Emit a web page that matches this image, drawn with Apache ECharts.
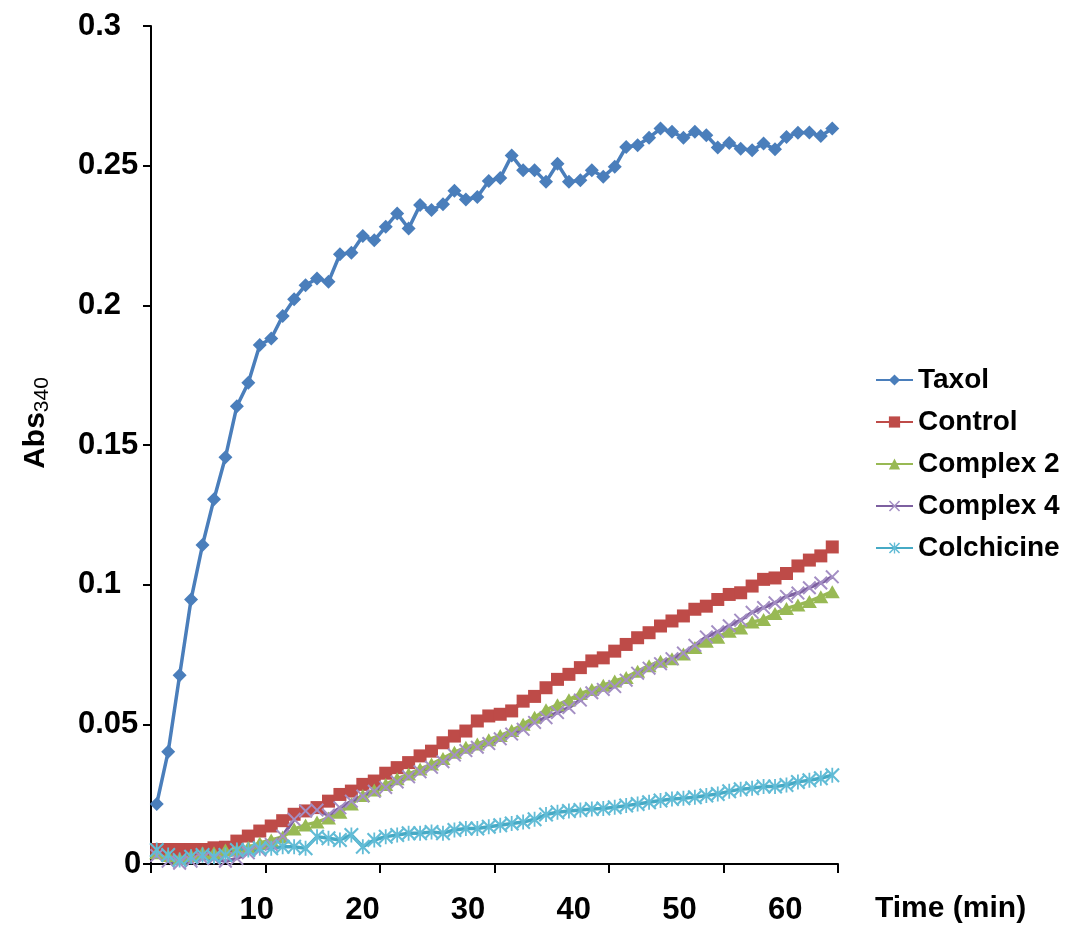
<!DOCTYPE html>
<html>
<head>
<meta charset="utf-8">
<script src="https://cdn.jsdelivr.net/npm/echarts@6.0.0/dist/echarts.min.js"></script>
<style>
html, body { margin: 0; padding: 0; background: #fff; }
#main { width: 1066px; height: 927px; }
</style>
</head>
<body>
<div id="main"></div>
<script>
var dom = document.getElementById('main');
var myChart = echarts.init(dom);

// read number (one plate reading every ~65 s)
var reads = ['1', '2', '3', '4', '5', '6', '7', '8', '9', '10',
    '11', '12', '13', '14', '15', '16', '17', '18', '19', '20',
    '21', '22', '23', '24', '25', '26', '27', '28', '29', '30',
    '31', '32', '33', '34', '35', '36', '37', '38', '39', '40',
    '41', '42', '43', '44', '45', '46', '47', '48', '49', '50',
    '51', '52', '53', '54', '55', '56', '57', '58', '59', '60'];
var timeLabels = [10, 20, 30, 40, 50, 60];
var seriesNames = ['Taxol', 'Control', 'Complex 2', 'Complex 4', 'Colchicine'];

var taxol = [0.0215, 0.0402, 0.0676, 0.0947, 0.1142, 0.1306, 0.1456, 0.1639, 0.1723, 0.1858,
    0.1881, 0.1962, 0.2022, 0.2072, 0.2096, 0.2084, 0.2183, 0.2188, 0.2248, 0.2233,
    0.2281, 0.2329, 0.2275, 0.2359, 0.2341, 0.2362, 0.2410, 0.2379, 0.2388, 0.2445,
    0.2456, 0.2536, 0.2484, 0.2484, 0.2442, 0.2507, 0.2442, 0.2448, 0.2484, 0.2460,
    0.2496, 0.2567, 0.2573, 0.2600, 0.2633, 0.2621, 0.2600, 0.2621, 0.2609, 0.2565,
    0.2581, 0.2561, 0.2555, 0.2579, 0.2559, 0.2603, 0.2618, 0.2619, 0.2606, 0.2633];
var control = [0.0052, 0.0052, 0.0052, 0.0052, 0.0052, 0.0058, 0.0060, 0.0082, 0.0100, 0.0118,
    0.0136, 0.0155, 0.0178, 0.0190, 0.0202, 0.0225, 0.0249, 0.0261, 0.0285, 0.0297,
    0.0325, 0.0345, 0.0363, 0.0387, 0.0404, 0.0434, 0.0458, 0.0476, 0.0512, 0.0530,
    0.0536, 0.0548, 0.0583, 0.0600, 0.0631, 0.0661, 0.0679, 0.0703, 0.0727, 0.0738,
    0.0762, 0.0786, 0.0810, 0.0828, 0.0852, 0.0870, 0.0888, 0.0912, 0.0923, 0.0947,
    0.0965, 0.0971, 0.0995, 0.1019, 0.1024, 0.1040, 0.1067, 0.1088, 0.1103, 0.1135];
var complex2 = [0.0040, 0.0030, 0.0020, 0.0030, 0.0040, 0.0040, 0.0050, 0.0050, 0.0060, 0.0075,
    0.0086, 0.0097, 0.0125, 0.0140, 0.0150, 0.0165, 0.0185, 0.0215, 0.0245, 0.0265,
    0.0285, 0.0305, 0.0322, 0.0340, 0.0358, 0.0378, 0.0400, 0.0418, 0.0430, 0.0445,
    0.0460, 0.0478, 0.0500, 0.0525, 0.0552, 0.0570, 0.0588, 0.0610, 0.0625, 0.0640,
    0.0655, 0.0668, 0.0690, 0.0710, 0.0726, 0.0735, 0.0752, 0.0775, 0.0797, 0.0812,
    0.0833, 0.0845, 0.0866, 0.0875, 0.0897, 0.0915, 0.0927, 0.0940, 0.0957, 0.0975];
var complex4 = [0.0030, 0.0010, 0.0003, 0.0010, 0.0020, 0.0020, 0.0010, 0.0020, 0.0040, 0.0050,
    0.0070, 0.0100, 0.0160, 0.0190, 0.0193, 0.0175, 0.0201, 0.0225, 0.0243, 0.0260,
    0.0274, 0.0294, 0.0312, 0.0330, 0.0346, 0.0366, 0.0390, 0.0406, 0.0418, 0.0431,
    0.0448, 0.0465, 0.0482, 0.0507, 0.0524, 0.0542, 0.0560, 0.0587, 0.0613, 0.0625,
    0.0635, 0.0658, 0.0683, 0.0701, 0.0717, 0.0735, 0.0755, 0.0783, 0.0813, 0.0831,
    0.0853, 0.0873, 0.0901, 0.0918, 0.0935, 0.0958, 0.0970, 0.0989, 0.1006, 0.1028];
var colchicine = [0.0050, 0.0032, 0.0014, 0.0026, 0.0032, 0.0026, 0.0032, 0.0050, 0.0050, 0.0056,
    0.0056, 0.0062, 0.0062, 0.0056, 0.0098, 0.0092, 0.0086, 0.0104, 0.0062, 0.0086,
    0.0098, 0.0104, 0.0110, 0.0110, 0.0115, 0.0110, 0.0122, 0.0127, 0.0127, 0.0133,
    0.0139, 0.0145, 0.0150, 0.0160, 0.0177, 0.0185, 0.0190, 0.0193, 0.0197, 0.0199,
    0.0203, 0.0209, 0.0215, 0.0221, 0.0227, 0.0233, 0.0235, 0.0239, 0.0245, 0.0251,
    0.0260, 0.0268, 0.0271, 0.0277, 0.0277, 0.0283, 0.0294, 0.0300, 0.0307, 0.0318];

var font = 'Liberation Sans, Arial, sans-serif';
var xMark = 'path://M0,1L1,0L5,4L9,0L10,1L6,5L10,9L9,10L5,6L1,10L0,9L4,5Z';
var starMark = 'path://M0,1L1,0L4.4,3.4L4.4,0L5.6,0L5.6,3.4L9,0L10,1L6,5L10,9L9,10L5.6,6.6L5.6,10L4.4,10L4.4,6.6L1,10L0,9L4,5Z';

function lineSeries(name, data, lineColor, markColor, symbol, size) {
    return {
        name: name,
        type: 'line',
        xAxisIndex: 0,
        data: data,
        symbol: symbol,
        symbolSize: size,
        showAllSymbol: true,
        lineStyle: { color: lineColor, width: 3.5 },
        itemStyle: { color: markColor },
        emphasis: { disabled: true }
    };
}

option = {
    animation: false,
    backgroundColor: '#fff',
    grid: { left: 151, right: 228, top: 26, bottom: 63 },
    legend: {
        orient: 'vertical',
        left: 875,
        top: 366,
        padding: 0,
        itemWidth: 37,
        itemHeight: 14,
        itemGap: 14,
        data: seriesNames,
        textStyle: { fontFamily: font, fontSize: 28, fontWeight: 'bold', color: '#000' }
    },
    xAxis: [{
        type: 'category',
        data: reads,
        boundaryGap: true,
        axisLine: { lineStyle: { color: '#000', width: 2 } },
        axisTick: { show: true, interval: 9, length: 9, lineStyle: { color: '#000', width: 2 } },
        axisLabel: { show: false },
        splitLine: { show: false }
    }, {
        type: 'value',
        position: 'bottom',
        min: 0,
        max: 65,
        interval: 10,
        name: 'Time (min)',
        nameLocation: 'end',
        nameGap: 37,
        nameTextStyle: {
            fontFamily: font, fontSize: 30, fontWeight: 'bold', color: '#000',
            verticalAlign: 'top', padding: [30, 0, 0, 0]
        },
        axisLine: { show: false },
        axisTick: { show: false },
        splitLine: { show: false },
        axisLabel: {
            margin: 31,
            showMinLabel: false,
            showMaxLabel: false,
            fontFamily: font, fontSize: 31, fontWeight: 'bold', color: '#000',
            formatter: function (v) {
                return timeLabels.indexOf(v) >= 0 ? String(v) : '';
            }
        }
    }],
    yAxis: {
        type: 'value',
        min: 0,
        max: 0.3,
        interval: 0.05,
        name: '{a|Abs}{s|340}',
        nameLocation: 'middle',
        nameGap: 98,
        nameRotate: 90,
        nameTextStyle: {
            padding: [0, 0, 0, 44],
            rich: {
                a: { fontFamily: font, fontSize: 30, fontWeight: 'bold', color: '#000' },
                s: { fontFamily: font, fontSize: 21, color: '#000', padding: [14, 0, 0, 0] }
            }
        },
        axisLine: { show: true, lineStyle: { color: '#000', width: 2 } },
        axisTick: { show: true, length: 8, lineStyle: { color: '#000', width: 2 } },
        splitLine: { show: false },
        axisLabel: {
            align: 'left',
            margin: 73,
            fontFamily: font, fontSize: 31, fontWeight: 'bold', color: '#000',
            formatter: function (v) {
                if (v === 0) return '{z|0}';
                return String(Math.round(v * 100) / 100);
            },
            rich: {
                z: { fontFamily: font, fontSize: 31, fontWeight: 'bold', color: '#000', padding: [0, 0, 0, 46] }
            }
        }
    },
    series: [
        lineSeries(seriesNames[0], taxol, '#4A7EBB', '#4A7EBB', 'diamond', 14),
        lineSeries(seriesNames[1], control, '#BE4B48', '#BE4B48', 'rect', 13),
        lineSeries(seriesNames[2], complex2, '#98B954', '#98B954', 'triangle', [15, 13]),
        lineSeries(seriesNames[3], complex4, '#7D60A0', '#A48FC4', xMark, 14),
        lineSeries(seriesNames[4], colchicine, '#46AAC5', '#62BCD6', starMark, 15)
    ]
};
myChart.setOption(option);
</script>
</body>
</html>
